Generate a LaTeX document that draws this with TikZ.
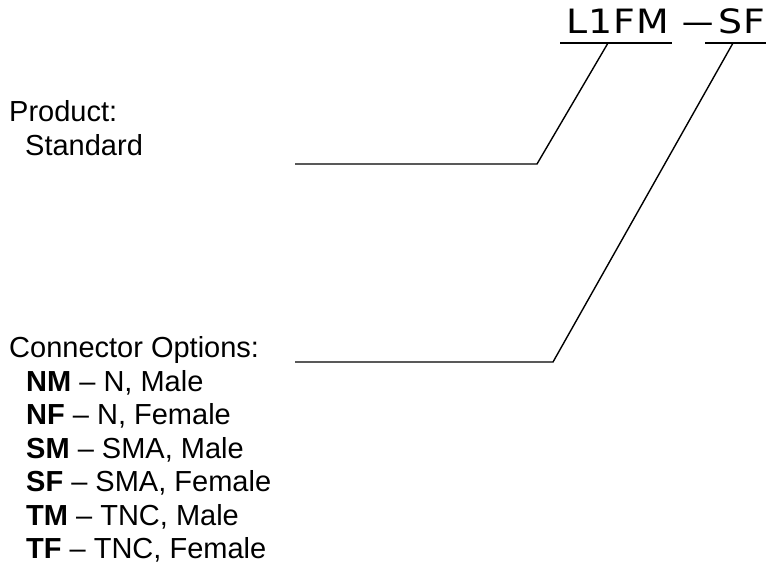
\documentclass[tikz,border=0pt]{standalone}
\usepackage{fontspec}
\setmainfont{Liberation Sans}
\newfontfamily\titlefont[LetterSpace=3]{DejaVu Sans}
\newcommand{\ttlbox}[1]{\scalebox{1.13}[1]{#1}}
\begin{document}
\begin{tikzpicture}[x=1pt,y=-1pt,
  txt/.style={anchor=base west,inner sep=0pt,font=\fontsize{29}{33}\selectfont},
  ttl/.style={anchor=base west,inner sep=0pt,font=\titlefont\fontsize{33.5}{38}\selectfont},
  lead/.style={line width=1.4pt,line join=miter}]
\useasboundingbox (0,0) rectangle (766,566);
% title
\node[ttl] (code1) at (566,33) {\ttlbox{L1FM}};
\node[ttl] (dash) at (680,33) {\scalebox{2.1}[1]{–}};
\node[ttl] (code2) at (718,33) {\ttlbox{SF}};
\coordinate (u1a) at (560,43);
\coordinate (u1b) at (672,43);
\coordinate (u2a) at (705,43);
\coordinate (u2b) at (766,43);
\draw[lead] (u1a) -- (u1b);
\draw[lead] (u2a) -- (u2b);
% labels
\node[txt] (prod) at (9,121) {Product:};
\node[txt] (std) at (25,155) {Standard};
\node[txt] (conn) at (9,357) {Connector Options:};
\node[txt] (o1) at (26,391.5) {\textbf{NM} – N, Male};
\node[txt] (o2) at (26,424.9) {\textbf{NF} – N, Female};
\node[txt] (o3) at (26,458.3) {\textbf{SM} – SMA, Male};
\node[txt] (o4) at (26,491.7) {\textbf{SF} – SMA, Female};
\node[txt] (o5) at (26,525) {\textbf{TM} – TNC, Male};
\node[txt] (o6) at (26,558.4) {\textbf{TF} – TNC, Female};
% leaders
\coordinate (t1) at (608,43);
\coordinate (k1) at (537,164);
\coordinate (e1) at (295,164);
\coordinate (t2) at (733,43);
\coordinate (k2) at (553,362);
\coordinate (e2) at (295,362);
\draw[lead] (t1) -- (k1) -- (e1);
\draw[lead] (t2) -- (k2) -- (e2);
\end{tikzpicture}
\end{document}
